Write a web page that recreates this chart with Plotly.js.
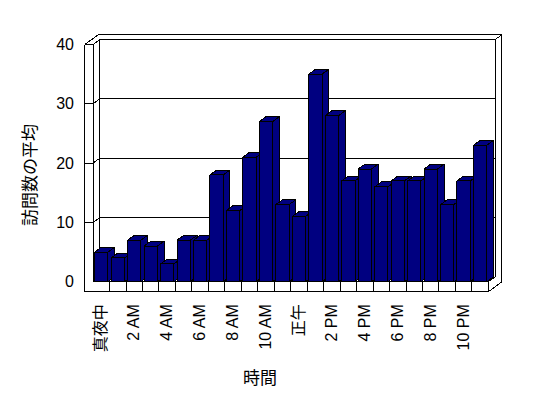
<!DOCTYPE html>
<html>
<head>
<meta charset="utf-8">
<script src="https://cdn.plot.ly/plotly-3.0.1.min.js"></script>
<style>
html,body{margin:0;padding:0;background:#fff;}
#chart{width:548px;height:398px;}
#chart path{shape-rendering:crispEdges;}
</style>
</head>
<body>
<div id="chart"></div>
<script>
// ---- data ----
const hours = ['真夜中','1 AM','2 AM','3 AM','4 AM','5 AM','6 AM','7 AM','8 AM','9 AM','10 AM','11 AM',
               '正午','1 PM','2 PM','3 PM','4 PM','5 PM','6 PM','7 PM','8 PM','9 PM','10 PM','11 PM'];
const visits = [5,4,7,6,3,7,7,18,12,21,27,13,11,35,28,17,19,16,17,17,19,13,17,23];
const yTicks = [0,10,20,30,40];
const xTitle = '時間';
const yTitle = '訪問数の平均';

// ---- geometry (layout) ----
const W = 548, H = 398;
const L = 84, R = 42, T = 28, B = 104;
const X0PX = 101.3, XSTEP = 16.47;   // px of category 0 centre, px per category
const Y0PX = 281.7, YSTEP = 5.93;    // px of value 0, px per unit
const xr = [(L - X0PX) / XSTEP, (W - R - X0PX) / XSTEP];
const yr = [(Y0PX - (H - B)) / YSTEP, (Y0PX - T) / YSTEP];
const DX = 0.407, DY = 0.82;         // depth offset (category units, value units)
const HW = 0.404;                    // half width of bar front face
const WALL = 0.5;                    // left wall thickness
const FL = 1.69;                     // floor thickness
const N = hours.length;
const YMAX = yTicks[yTicks.length - 1];
const NAVY = '#000080';

const xa = -0.5, xb = N - 0.5;

const shapes = [];
function seg(x0, y0, x1, y1) {
  shapes.push({type: 'line', xref: 'x', yref: 'y', x0, y0, x1, y1, layer: 'below',
               line: {color: '#000', width: 1}});
}
// back wall inner face
seg(xa + DX, DY, xa + DX, YMAX + DY);
seg(xb + DX, DY, xb + DX, YMAX + DY);
// gridlines (back wall + left wall inner face + left wall front face)
yTicks.forEach(v => {
  if (v === 0) return;
  seg(xa + DX, v + DY, xb + DX, v + DY);
  seg(xa, v, xa + DX, v + DY);
  seg(xa - WALL, v, xa, v);
});
// left wall
seg(xa - WALL, -FL, xa - WALL, YMAX);
seg(xa, 0, xa, YMAX);
seg(xa - WALL, YMAX, xa - WALL + 2 * DX, YMAX + 2 * DY);
// back wall top outer edge
seg(xa - WALL + 2 * DX, YMAX + 2 * DY, xb + 2 * DX, YMAX + 2 * DY);
seg(xb + DX, YMAX + DY, xb + 2 * DX, YMAX + 2 * DY);
// right outer edge
seg(xb + 2 * DX, YMAX + 2 * DY, xb + 2 * DX, -FL + 2 * DY);
// floor
seg(xa, 0, xb, 0);
seg(xa - WALL, -FL, xb, -FL);
seg(xb, 0, xb, -FL);
seg(xb, 0, xb + DX, DY);
seg(xb, -FL, xb + 2 * DX, -FL + 2 * DY);
for (let i = 0; i < N - 1; i++) seg(i + 0.5, 0, i + 0.5, -FL);

// ---- bars (3D columns) ----
const traces = [];
visits.forEach((v, i) => {
  const x0 = i - HW, x1 = i + HW;
  traces.push({
    type: 'scatter', mode: 'lines', fill: 'toself', fillcolor: NAVY,
    x: [x0, x0, x0 + DX, x1 + DX, x1 + DX, x1, x0],
    y: [0, v, v + DY, v + DY, DY, 0, 0],
    line: {color: '#000', width: 1}, hoverinfo: 'skip', showlegend: false, cliponaxis: false
  });
  traces.push({
    type: 'scatter', mode: 'lines',
    x: [x0, x1, x1, null, x1, x1 + DX],
    y: [v, v, 0, null, v, v + DY],
    line: {color: '#000', width: 1}, hoverinfo: 'skip', showlegend: false, cliponaxis: false,
    name: hours[i], text: String(v)
  });
});

const tickIdx = hours.map((h, i) => i).filter(i => i % 2 === 0);
const FONT = 'Liberation Sans, "Noto Sans CJK JP", sans-serif';
const JFONT = '"Noto Sans CJK JP", sans-serif';

const layout = {
  width: W, height: H,
  margin: {l: L, r: R, t: T, b: B, pad: 0},
  paper_bgcolor: '#fff', plot_bgcolor: '#fff',
  font: {family: FONT, size: 16, color: '#000'},
  showlegend: false,
  xaxis: {
    range: xr, fixedrange: true, showgrid: false, zeroline: false, showline: false,
    tickmode: 'array', tickvals: tickIdx, ticktext: tickIdx.map(i => hours[i]),
    tickangle: -90, ticks: '', ticklabelstandoff: 6,
    tickfont: {family: FONT, size: 16, color: '#000'}
  },
  yaxis: {
    range: yr, fixedrange: true, showgrid: false, zeroline: false, showline: false,
    tickmode: 'array', tickvals: yTicks, ticks: '', ticklabelstandoff: 9,
    tickfont: {family: FONT, size: 16, color: '#000'}
  },
  shapes: shapes,
  annotations: [
    {text: xTitle, xref: 'paper', yref: 'paper', x: (260 - L) / (W - L - R), y: -(376 - (H - B)) / (H - T - B),
     xanchor: 'center', yanchor: 'middle', showarrow: false,
     font: {family: JFONT, size: 17, color: '#000'}},
    {text: yTitle, xref: 'paper', yref: 'paper', x: -(L - 29) / (W - L - R), y: (H - B - 175) / (H - T - B),
     xanchor: 'center', yanchor: 'middle', textangle: -90, showarrow: false,
     font: {family: JFONT, size: 17, color: '#000'}}
  ]
};

Plotly.newPlot('chart', traces, layout, {staticPlot: true, displayModeBar: false});
</script>
</body>
</html>
